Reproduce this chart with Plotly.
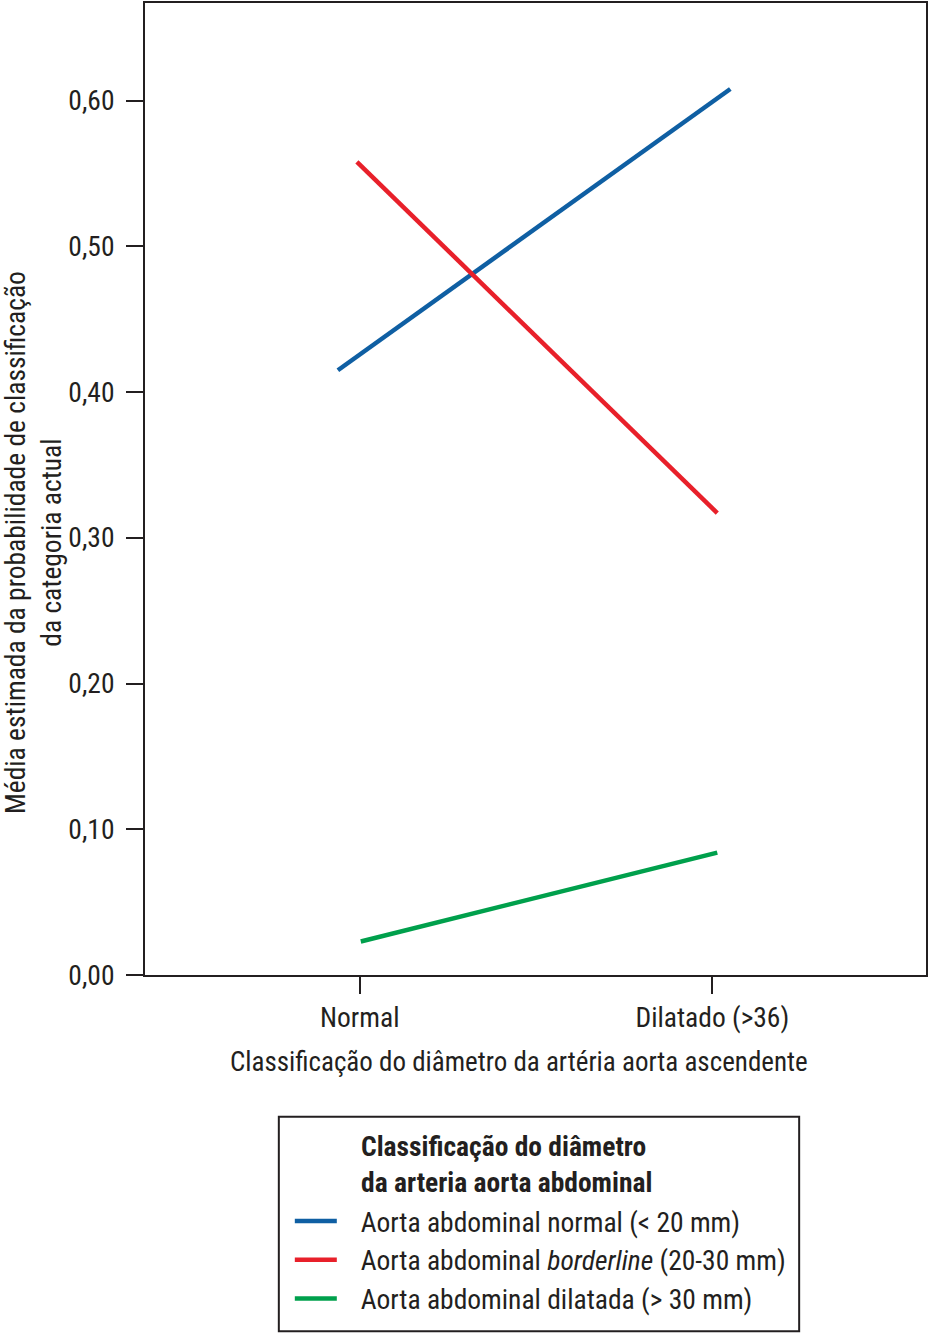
import plotly.graph_objects as go

# data
categories = ["Normal", "Dilatado (>36)"]
cat_pos = [0, 1]

series_names = [
    "Aorta abdominal normal (< 20 mm)",
    "Aorta abdominal <i>borderline</i> (20-30 mm)",
    "Aorta abdominal dilatada (> 30 mm)",
]
# x positions of line ends as drawn (slightly off the category ticks in the original)
blue_x = [-0.062, 1.051]
blue_y = [0.415, 0.608]
red_x = [-0.008, 1.014]
red_y = [0.558, 0.317]
green_x = [0.003, 1.014]
green_y = [0.023, 0.084]

colors = ["#0f5fa3", "#e8202a", "#00a04c"]

FONT = "Liberation Sans Narrow, Roboto Condensed, Arial Narrow, Liberation Sans, sans-serif"
INK = "#231f20"
FS = 27.5

fig = go.Figure()
for name, xs, ys, c in zip(series_names, [blue_x, red_x, green_x],
                           [blue_y, red_y, green_y], colors):
    fig.add_trace(go.Scatter(x=xs, y=ys, mode="lines",
                             name="&nbsp;&nbsp;&nbsp;" + name,
                             line=dict(color=c, width=4.5)))

fig.update_layout(
    width=929, height=1334,
    margin=dict(l=145, r=2, t=1, b=359),
    plot_bgcolor="white", paper_bgcolor="white",
    font=dict(family=FONT, size=FS, color=INK),
    separators=",.",
    showlegend=True,
    legend=dict(x=(290 - 145) / 782, y=(975 - 1197) / 974, xanchor="left", yanchor="top",
                itemwidth=42, borderwidth=0, bgcolor="rgba(0,0,0,0)",
                font=dict(size=FS, color=INK), tracegroupgap=0),
)

fig.update_xaxes(range=[-0.609, 1.606], tickvals=cat_pos, ticktext=categories,
                 showgrid=False, zeroline=False, showline=True, mirror=True,
                 linecolor=INK, linewidth=2, ticks="outside", ticklen=17,
                 tickwidth=2, tickcolor=INK, ticklabelstandoff=0)
fig.update_yaxes(range=[0, 0.667], tickvals=[0, 0.1, 0.2, 0.3, 0.4, 0.5, 0.6],
                 tickformat=".2f", showgrid=False, zeroline=False, showline=True,
                 mirror=True, linecolor=INK, linewidth=2, ticks="outside",
                 ticklen=17, tickwidth=2, tickcolor=INK, ticklabelstandoff=6)

# axis titles
fig.add_annotation(text="Média estimada da probabilidade de classificação<br>da categoria actual",
                   xref="paper", yref="paper", x=(34 - 145) / 782, y=(975 - 542) / 974,
                   xanchor="center", yanchor="middle", textangle=-90, showarrow=False,
                   font=dict(size=FS, color=INK))
fig.add_annotation(text="Classificação do diâmetro da artéria aorta ascendente",
                   xref="paper", yref="paper", x=(519.5 - 145) / 782, y=(975 - 1062) / 974,
                   xanchor="center", yanchor="middle", showarrow=False,
                   font=dict(size=27, color=INK))

# legend frame and title
fig.add_shape(type="rect", xref="paper", yref="paper",
              x0=(279 - 145) / 782, x1=(800 - 145) / 782,
              y0=(975 - 1117) / 974, y1=(975 - 1332) / 974,
              line=dict(color=INK, width=2), fillcolor="rgba(0,0,0,0)")
fig.add_annotation(text="Classificação do diâmetro<br>da arteria aorta abdominal",
                   xref="paper", yref="paper", x=(359 - 145) / 782, y=(975 - 1128) / 974,
                   xanchor="left", yanchor="top", align="left", showarrow=False,
                   font=dict(size=FS, color=INK, weight="bold"))

fig.write_html("out.html", config={"displayModeBar": False},
               post_script="document.body.style.margin='0';")
